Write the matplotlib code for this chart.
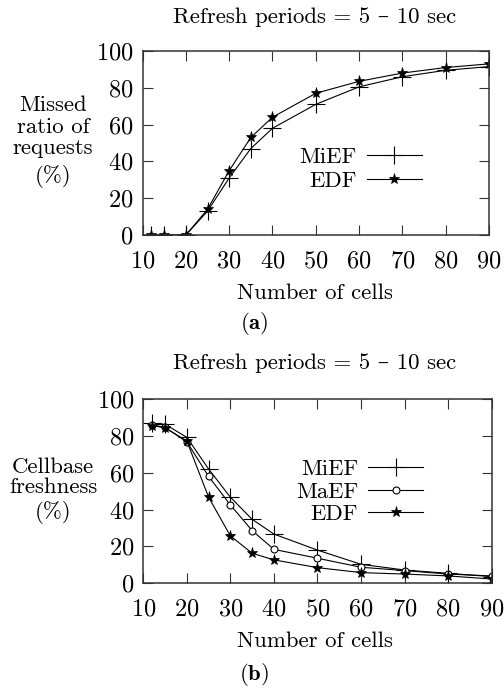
import matplotlib
matplotlib.use("Agg")
import matplotlib.pyplot as plt

plt.rcParams["font.family"] = ["cmr10", "DejaVu Serif"]
plt.rcParams["mathtext.fontset"] = "cm"
plt.rcParams["axes.formatter.use_mathtext"] = True

# number of cells (x values shared by all series)
cells = [12, 15, 20, 25, 30, 35, 40, 50, 60, 70, 80, 90]

# (a) missed ratio of requests (%)
miss_mief = [0, 0, 0, 13, 31, 47, 58, 71, 80.5, 86, 89.5, 91.5]
miss_edf = [0, 0, 0, 14, 35, 53, 64, 77, 83.5, 88, 91, 93]

# (b) cellbase freshness (%)
fresh_mief = [86.8, 86.3, 79.2, 62, 46.7, 34.7, 26.7, 18, 10.3, 7.2, 5.4, 3.6]
fresh_maef = [86, 84.6, 76.8, 58, 42.5, 28.6, 18.4, 13.6, 8.7, 6.9, 5.0, 4.0]
fresh_edf = [85.6, 84.4, 77.2, 46.7, 25.7, 16.3, 12.7, 8.5, 5.8, 5.0, 4.0, 2.3]

xticks = [10, 20, 30, 40, 50, 60, 70, 80, 90]
yticks = [0, 20, 40, 60, 80, 100]

FS = 16.4
TFS = 17.5
LW = 0.8


def style_axes(ax):
    ax.set_xlim(10, 90)
    ax.set_ylim(0, 100)
    ax.set_xticks(xticks)
    ax.set_yticks(yticks)
    ax.tick_params(direction="in", top=True, right=True, length=7, width=0.8,
                   labelsize=TFS, color="#333333")
    ax.tick_params(axis="x", pad=11)
    ax.tick_params(axis="y", pad=6.5)
    for s in ax.spines.values():
        s.set_linewidth(1.1)
        s.set_color("#333333")


def add_legend(ax, anchor, spacing):
    ax.legend(loc="center right", bbox_to_anchor=anchor, frameon=False,
              markerfirst=False, fontsize=FS, handlelength=2.4,
              handletextpad=0.45, labelspacing=spacing, borderpad=0,
              borderaxespad=0, numpoints=1)


fig = plt.figure(figsize=(5.04, 6.88), dpi=100)

# ---- panel (a)
ax1 = fig.add_axes([0.283, 0.6584, 0.687, 0.2675])
ax1.plot(cells, miss_mief, color="black", lw=LW, marker="+", ms=13, mew=0.8,
         label="MiEF")
ax1.plot(cells, miss_edf, color="black", lw=LW, marker="*", ms=8, mew=0.5,
         label="EDF")
style_axes(ax1)
add_legend(ax1, (0.806, 0.359), 0.15)
fig.text(0.625, 1 - 17 / 688, "Refresh periods = 5 – 10 sec", ha="center",
         va="center", fontsize=FS)
fig.text(0.105, 1 - 127 / 688, "Missed\nratio of\nrequests", ha="center",
         va="center", fontsize=FS, linespacing=1.12)
fig.text(0.105, 1 - 177 / 688, "(%)", ha="center", va="center", fontsize=FS)
fig.text(0.625, 1 - 293 / 688, "Number of cells", ha="center", va="center",
         fontsize=FS)
fig.text(0.504, 1 - 323 / 688, r"$\mathbf{(a)}$", ha="center", va="center",
         fontsize=FS)

# ---- panel (b)
ax2 = fig.add_axes([0.2843, 0.1522, 0.6913, 0.2678])
ax2.plot(cells, fresh_mief, color="black", lw=LW, marker="+", ms=13, mew=0.8,
         label="MiEF")
ax2.plot(cells, fresh_maef, color="black", lw=LW, marker="o", ms=5, mew=0.8,
         mfc="white", label="MaEF")
ax2.plot(cells, fresh_edf, color="black", lw=LW, marker="*", ms=8, mew=0.5,
         label="EDF")
style_axes(ax2)
add_legend(ax2, (0.803, 0.497), 0.1)
fig.text(0.625, 1 - 363 / 688, "Refresh periods = 5 – 10 sec", ha="center",
         va="center", fontsize=FS)
fig.text(0.105, 1 - 477 / 688, "Cellbase\nfreshness", ha="center",
         va="center", fontsize=FS, linespacing=1.05)
fig.text(0.105, 1 - 512 / 688, "(%)", ha="center", va="center", fontsize=FS)
fig.text(0.625, 1 - 641 / 688, "Number of cells", ha="center", va="center",
         fontsize=FS)
fig.text(0.504, 1 - 674 / 688, r"$\mathbf{(b)}$", ha="center", va="center",
         fontsize=FS)

fig.savefig("out.png", dpi=100)
